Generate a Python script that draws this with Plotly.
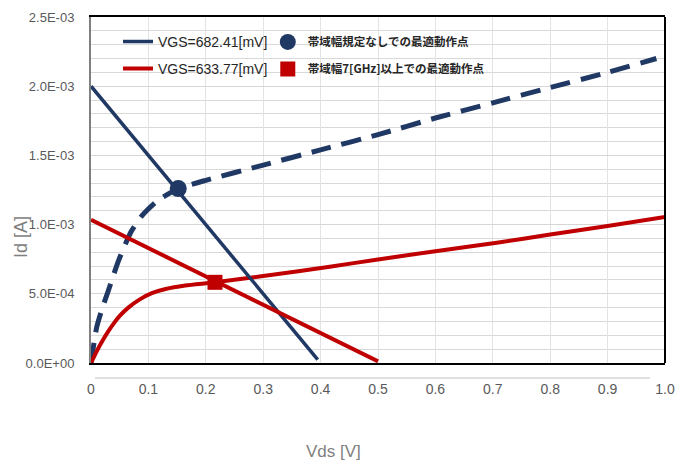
import plotly.graph_objects as go

# ---- data ----
vds_682 = [0, 0.01, 0.02, 0.03, 0.048, 0.07, 0.09, 0.115, 0.15, 0.2, 0.3, 0.4, 0.5, 0.6, 0.7, 0.8, 0.9, 0.985]
id_682 = [0, 0.26e-3, 0.40e-3, 0.52e-3, 0.74e-3, 0.95e-3, 1.07e-3, 1.17e-3, 1.255e-3, 1.32e-3, 1.43e-3,
          1.54e-3, 1.65e-3, 1.77e-3, 1.88e-3, 1.99e-3, 2.10e-3, 2.20e-3]

vds_633 = [0, 0.01, 0.02, 0.03, 0.04, 0.05, 0.065, 0.085, 0.106, 0.13, 0.164, 0.216, 0.3, 0.416, 0.5, 0.6,
           0.707, 0.8, 0.9, 1.0]
id_633 = [0, 0.085e-3, 0.16e-3, 0.228e-3, 0.288e-3, 0.34e-3, 0.40e-3, 0.46e-3, 0.505e-3, 0.535e-3, 0.56e-3,
          0.583e-3, 0.628e-3, 0.696e-3, 0.748e-3, 0.808e-3, 0.869e-3, 0.928e-3, 0.99e-3, 1.055e-3]

load_682_x = [0, 0.395]
load_682_y = [2.0e-3, 0.025e-3]
load_633_x = [0, 0.5]
load_633_y = [1.035e-3, 0.012e-3]

opt_free_x = [0.152]
opt_free_y = [1.26e-3]
opt_7ghz_x = [0.216]
opt_7ghz_y = [0.583e-3]

name_682 = "VGS=682.41[mV]"
name_633 = "VGS=633.77[mV]"
name_free = "帯域幅規定なしでの最適動作点"
name_7ghz = "帯域幅7[GHz]以上での最適動作点"
x_title = "Vds [V]"
y_title = "Id [A]"

x_ticks = [0, 0.1, 0.2, 0.3, 0.4, 0.5, 0.6, 0.7, 0.8, 0.9, 1.0]
x_ticktext = ["0", "0.1", "0.2", "0.3", "0.4", "0.5", "0.6", "0.7", "0.8", "0.9", "1.0"]
y_ticks = [0, 0.5e-3, 1.0e-3, 1.5e-3, 2.0e-3, 2.5e-3]
y_ticktext = ["0.0E+00", "5.0E-04", "1.0E-03", "1.5E-03", "2.0E-03", "2.5E-03"]

NAVY = "#203864"
RED = "#C00000"
SANS = "Liberation Sans, Arial, sans-serif"
JP = "Noto Sans CJK JP, sans-serif"

fig = go.Figure()
fig.add_trace(go.Scatter(x=vds_682, y=id_682, mode="lines",
                         line=dict(color=NAVY, width=5, dash="20px,11px", shape="spline", smoothing=0.6),
                         showlegend=False, hoverinfo="skip"))
fig.add_trace(go.Scatter(x=vds_633, y=id_633, mode="lines",
                         line=dict(color=RED, width=4, shape="spline", smoothing=0.7),
                         showlegend=False, hoverinfo="skip"))
fig.add_trace(go.Scatter(x=load_682_x, y=load_682_y, mode="lines", line=dict(color=NAVY, width=3.5),
                         name=name_682, legend="legend"))
fig.add_trace(go.Scatter(x=load_633_x, y=load_633_y, mode="lines", line=dict(color=RED, width=4),
                         name=name_633, legend="legend2"))
fig.add_trace(go.Scatter(x=opt_free_x, y=opt_free_y, mode="markers",
                         marker=dict(symbol="circle", size=17, color=NAVY), name=name_free, legend="legend3"))
fig.add_trace(go.Scatter(x=opt_7ghz_x, y=opt_7ghz_y, mode="markers",
                         marker=dict(symbol="square", size=15, color=RED), name=name_7ghz, legend="legend4"))

leg_common = dict(bgcolor="rgba(0,0,0,0)", borderwidth=0, xanchor="left", yanchor="middle",
                  itemwidth=30)
fig.update_layout(
    width=678, height=457,
    margin=dict(l=83, r=21, t=9, b=102, autoexpand=False),
    paper_bgcolor="white", plot_bgcolor="white",
    font=dict(family=SANS, color="#595959"),
    legend=dict(x=0.047, y=0.928, font=dict(family=SANS, size=14, color="#262626"), **leg_common),
    legend2=dict(x=0.047, y=0.85, font=dict(family=SANS, size=14, color="#262626"), **leg_common),
    legend3=dict(x=0.308, y=0.928, font=dict(family=JP, size=11.5, color="#262626", weight="bold"), **leg_common),
    legend4=dict(x=0.308, y=0.85, font=dict(family=JP, size=11.5, color="#262626", weight="bold"), **leg_common),
    xaxis=dict(range=[0, 1.0], tickvals=x_ticks, ticktext=x_ticktext, showgrid=True, gridcolor="#e3e3e3",
               gridwidth=1, zeroline=False, showline=True, linecolor="black", linewidth=2, mirror=True,
               ticks="", ticklabelstandoff=12, tickfont=dict(size=14, color="#595959")),
    yaxis=dict(range=[0, 2.5e-3], tickvals=y_ticks, ticktext=y_ticktext, showgrid=True, gridcolor="#d6d6d6",
               gridwidth=1, zeroline=False, showline=True, linecolor="#808080", linewidth=2, mirror=False,
               ticks="", ticklabelstandoff=12, tickfont=dict(size=13, color="#595959"),
               minor=dict(dtick=1e-4, showgrid=True, gridcolor="#d9d9d9", gridwidth=1)),
    annotations=[
        dict(text=x_title, xref="paper", yref="paper", x=0.422, y=-0.257, showarrow=False,
             xanchor="center", yanchor="middle", font=dict(size=17, color="#7f7f7f")),
        dict(text=y_title, xref="paper", yref="paper", x=-0.122, y=0.364, showarrow=False, textangle=-90,
             xanchor="center", yanchor="middle", font=dict(size=18, color="#7f7f7f")),
    ],
    shapes=[
        dict(type="line", xref="paper", yref="paper", x0=1, x1=1, y0=0, y1=1,
             line=dict(color="black", width=2)),
        dict(type="line", xref="paper", yref="paper", x0=0.007, x1=0.974, y0=-0.043, y1=-0.043,
             line=dict(color="#e0e0e0", width=2), layer="below"),
    ],
)

fig.write_html("out.html")
